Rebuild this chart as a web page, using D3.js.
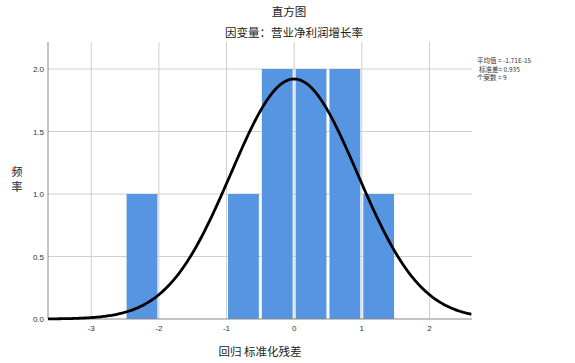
<!DOCTYPE html>
<html>
<head>
<meta charset="utf-8">
<script src="https://cdn.jsdelivr.net/npm/d3@7"></script>
<style>
  body { margin: 0; background: #fff; }
  text { font-family: "Liberation Sans", Arial, sans-serif; }
  .cjk { font-family: "Noto Sans CJK SC", sans-serif; }
</style>
</head>
<body>
<script>
let width = 575,
    height = 363

// histogram bins (regression standardized residual) and counts
const binStarts = [-2.5, -1.0, -0.5, 0.0, 0.5, 1.0]
const binWidth = 0.5
const counts = [1, 1, 2, 2, 2, 1]

const xTicks = [-3, -2, -1, 0, 1, 2]
const yTicks = [0.0, 0.5, 1.0, 1.5, 2.0]

// summary stats printed in the legend
const mean = -1.71e-15
const stdDev = 0.935
const nCases = 9
const legendLines = ['平均值 = -1.71E-15', '标准差= 0.935', '个案数 = 9']

let svg = d3.select('body').append('svg')
    .attr('width', width)
    .attr('height', height)

const plotLeft = 48, plotRight = 472, plotTop = 42, plotBottom = 319

const x = d3.scaleLinear().domain([-3.64, 2.63]).range([plotLeft, plotRight])
const y = d3.scaleLinear().domain([0, 2.216]).range([plotBottom, plotTop])

// grid
svg.append('g').selectAll('line.hg')
    .data(yTicks.filter(d => d > 0))
    .join('line')
    .attr('x1', plotLeft).attr('x2', plotRight)
    .attr('y1', d => y(d)).attr('y2', d => y(d))
    .style('stroke', '#cfcfcf').style('stroke-width', 1)

svg.append('g').selectAll('line.vg')
    .data(xTicks)
    .join('line')
    .attr('x1', d => x(d)).attr('x2', d => x(d))
    .attr('y1', plotTop).attr('y2', plotBottom)
    .style('stroke', '#cfcfcf').style('stroke-width', 1)

// bars
svg.append('g').selectAll('rect')
    .data(binStarts.map((b, i) => ({b: b, c: counts[i]})))
    .join('rect')
    .attr('x', d => x(d.b) + 1.5)
    .attr('width', d => x(d.b + binWidth) - x(d.b) - 3)
    .attr('y', d => y(d.c))
    .attr('height', d => y(0) - y(d.c))
    .style('fill', '#5595e2')

// axes
svg.append('line')
    .attr('x1', plotLeft).attr('x2', plotLeft)
    .attr('y1', plotTop).attr('y2', plotBottom)
    .style('stroke', '#8a8a8a')
svg.append('line')
    .attr('x1', plotLeft).attr('x2', plotRight)
    .attr('y1', plotBottom).attr('y2', plotBottom)
    .style('stroke', '#8a8a8a')

svg.append('g').selectAll('text')
    .data(yTicks)
    .join('text')
    .attr('x', plotLeft - 4)
    .attr('y', d => y(d) + 3)
    .attr('text-anchor', 'end')
    .style('font-size', '8px')
    .style('fill', '#333')
    .text(d => d.toFixed(1))

svg.append('g').selectAll('text')
    .data(xTicks)
    .join('text')
    .attr('x', d => x(d))
    .attr('y', plotBottom + 12)
    .attr('text-anchor', 'middle')
    .style('font-size', '8px')
    .style('fill', '#333')
    .text(d => d)

// normal curve from the legend stats
const scaleN = nCases * binWidth
const curveX = d3.range(x.domain()[0], x.domain()[1] + 0.001, 0.02)
const line = d3.line()
    .x(d => x(d))
    .y(d => y(scaleN * Math.exp(-0.5 * Math.pow((d - mean) / stdDev, 2)) / (stdDev * Math.sqrt(2 * Math.PI))))
svg.append('path')
    .attr('d', line(curveX))
    .style('fill', 'none')
    .style('stroke', '#000')
    .style('stroke-width', 2.8)

// titles
svg.append('text').attr('class', 'cjk')
    .attr('x', 289).attr('y', 16)
    .attr('text-anchor', 'middle')
    .style('font-size', '11.5px').style('fill', '#222')
    .text('直方图')
svg.append('text').attr('class', 'cjk')
    .attr('x', 294).attr('y', 37)
    .attr('text-anchor', 'middle')
    .style('font-size', '11.5px').style('fill', '#222')
    .text('因变量：营业净利润增长率')
svg.append('text').attr('class', 'cjk')
    .attr('x', (plotLeft + plotRight) / 2).attr('y', 356)
    .attr('text-anchor', 'middle')
    .style('font-size', '11.5px').style('fill', '#222')
    .text('回归 标准化残差')
svg.append('g').selectAll('text')
    .data(['频', '率'])
    .join('text').attr('class', 'cjk')
    .attr('x', 17).attr('y', (d, i) => 176 + i * 15)
    .attr('text-anchor', 'middle')
    .style('font-size', '11px').style('fill', '#222')
    .text(d => d)

// legend
svg.append('g').selectAll('text')
    .data(legendLines)
    .join('text').attr('class', 'cjk')
    .attr('x', (d, i) => i === 1 ? 479 : 477)
    .attr('y', (d, i) => 63 + i * 8.5)
    .style('font-size', '6.5px').style('fill', '#333')
    .text(d => d)
</script>
</body>
</html>
